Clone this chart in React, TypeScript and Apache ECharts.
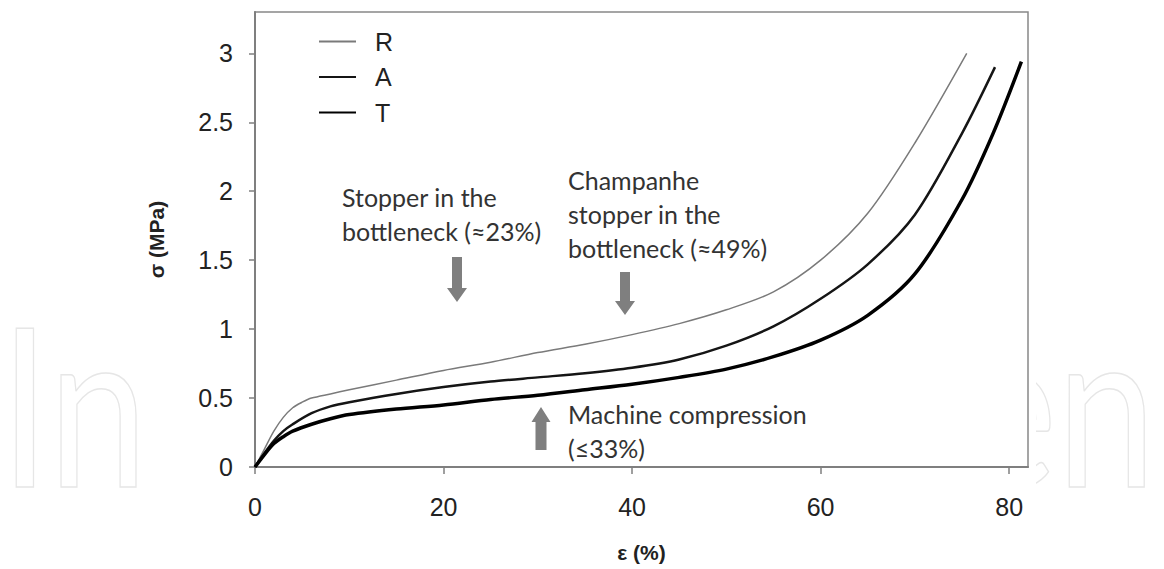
import React, { useEffect, useRef } from "react";
import * as echarts from "echarts";

const seriesNames = ["R", "A", "T"];

const strainR = [0, 1, 2, 3, 4, 5, 6, 8, 10, 15, 20, 25, 30, 35, 40, 45, 50, 55, 60, 65, 70, 75.5];
const stressR = [0, 0.13, 0.26, 0.36, 0.43, 0.47, 0.5, 0.53, 0.56, 0.63, 0.7, 0.76, 0.83, 0.89, 0.96, 1.04, 1.14, 1.27, 1.5, 1.84, 2.35, 3.0];

const strainA = [0, 1, 2, 3, 4, 6, 8, 10, 15, 20, 25, 30, 35, 40, 45, 50, 55, 60, 65, 70, 75, 78.5];
const stressA = [0, 0.1, 0.19, 0.26, 0.31, 0.39, 0.44, 0.47, 0.53, 0.58, 0.62, 0.65, 0.68, 0.72, 0.78, 0.88, 1.02, 1.22, 1.47, 1.83, 2.42, 2.9];

const strainT = [0, 1, 2, 3, 4, 6, 8, 10, 15, 20, 25, 30, 35, 40, 45, 50, 55, 60, 65, 70, 75, 78.3, 81.3];
const stressT = [0, 0.09, 0.17, 0.22, 0.26, 0.31, 0.35, 0.38, 0.42, 0.45, 0.49, 0.52, 0.56, 0.6, 0.65, 0.71, 0.8, 0.92, 1.1, 1.4, 1.94, 2.42, 2.94];

const xTicks = [0, 20, 40, 60, 80];
const yTicks = [0, 0.5, 1, 1.5, 2, 2.5, 3];

const annotations = [
  { lines: ["Stopper in the", "bottleneck (≈23%)"], x: 342, y: 197 },
  { lines: ["Champanhe", "stopper in the", "bottleneck (≈49%)"], x: 568, y: 180 },
  { lines: ["Machine compression", "(≤33%)"], x: 568, y: 414 },
];

function zip(xs: number[], ys: number[]) {
  return xs.map((x, i) => [x, ys[i]]);
}

function arrowDown(cx: number, top: number, headStart: number, tip: number, sw: number, hw: number) {
  return [
    [cx - sw / 2, top],
    [cx + sw / 2, top],
    [cx + sw / 2, headStart],
    [cx + hw / 2, headStart],
    [cx, tip],
    [cx - hw / 2, headStart],
    [cx - sw / 2, headStart],
  ];
}

export default function App() {
  const ref = useRef<HTMLDivElement>(null);
  useEffect(() => {
    document.body.style.margin = "0";
    const chart = echarts.init(ref.current!, null, { renderer: "svg" });
    const labelFont = "Liberation Sans, Arial, sans-serif";
    const annoFont = "Lato, Open Sans, sans-serif";
    const wmStyle = {
      font: "222px Lato, sans-serif",
      fill: "none",
      stroke: "#e6e6e6",
      lineWidth: 1.5,
      textVerticalAlign: "bottom",
      x: 0,
      y: 0,
    };
    const graphics: any[] = [
      { type: "text", z: -10, silent: true, x: 0, y: 512, scaleX: 0.8, style: { ...wmStyle, text: "In" } },
      { type: "text", z: -10, silent: true, x: 963, y: 512, scaleX: 0.8, style: { ...wmStyle, text: "en" } },
      {
        type: "rect",
        z: -5,
        silent: true,
        shape: { x: 145, y: 0, width: 891, height: 569 },
        style: { fill: "#ffffff" },
      },
    ];
    annotations.forEach((a) => {
      a.lines.forEach((t, i) => {
        graphics.push({
          type: "text",
          z: 10,
          style: {
            text: t,
            x: a.x,
            y: a.y + i * 34,
            fill: "#333333",
            font: `25px ${annoFont}`,
            textVerticalAlign: "middle",
            textAlign: "left",
          },
        });
      });
    });
    const arrows = [
      arrowDown(457, 257, 288, 302, 10, 20),
      arrowDown(625, 272, 301, 315, 10, 20),
      arrowDown(541, 450, 422, 407, 11, 19),
    ];
    arrows.forEach((pts) =>
      graphics.push({
        type: "polygon",
        z: 10,
        shape: { points: pts },
        style: { fill: "#7f7f7f" },
      })
    );

    const data = [zip(strainR, stressR), zip(strainA, stressA), zip(strainT, stressT)];
    const colors = ["#7a7a7a", "#151515", "#000000"];
    const widths = [1.5, 2.5, 3.5];

    chart.setOption({
      animation: false,
      backgroundColor: "transparent",
      grid: {
        left: 255,
        top: 12,
        right: 136,
        bottom: 102,
        show: true,
        backgroundColor: "#ffffff",
        borderColor: "#888888",
        borderWidth: 1.5,
        z: 0,
      },
      legend: {
        orient: "vertical",
        left: 313,
        top: 24,
        itemWidth: 37,
        itemHeight: 14,
        itemGap: 10.5,
        data: seriesNames,
        itemStyle: { opacity: 0 },
        textStyle: {
          fontFamily: labelFont,
          fontSize: 25,
          color: "#222222",
          lineHeight: 25,
          padding: [0, 0, 0, 14],
        },
        selectedMode: false,
      },
      xAxis: {
        type: "value",
        min: 0,
        max: 82,
        name: "ε (%)",
        nameLocation: "middle",
        nameGap: 75,
        nameTextStyle: { fontFamily: labelFont, fontWeight: "bold", fontSize: 21, color: "#222222" },
        axisLine: { show: true, lineStyle: { color: "#7f7f7f", width: 2 } },
        axisTick: { show: true, length: 7, customValues: xTicks, lineStyle: { color: "#7f7f7f", width: 1.5 } },
        splitLine: { show: false },
        axisLabel: {
          margin: 27,
          customValues: xTicks,
          fontFamily: labelFont,
          fontSize: 25,
          color: "#222222",
        },
      },
      yAxis: {
        type: "value",
        min: 0,
        max: 3.3,
        name: "σ (MPa)",
        nameLocation: "middle",
        nameGap: 88,
        nameTextStyle: { fontFamily: labelFont, fontWeight: "bold", fontSize: 21, color: "#222222" },
        axisLine: { show: true, lineStyle: { color: "#7f7f7f", width: 2 } },
        axisTick: { show: true, length: 6, customValues: yTicks, lineStyle: { color: "#7f7f7f", width: 1.5 } },
        splitLine: { show: false },
        axisLabel: {
          margin: 22,
          customValues: yTicks,
          fontFamily: labelFont,
          fontSize: 25,
          color: "#222222",
        },
      },
      graphic: graphics,
      series: seriesNames.map((n, i) => ({
        name: n,
        type: "line",
        data: data[i],
        smooth: 0.3,
        symbol: "none",
        lineStyle: { color: colors[i], width: widths[i] },
        itemStyle: { color: colors[i] },
        z: 3,
      })),
    });
    return () => chart.dispose();
  }, []);
  return <div ref={ref} style={{ width: 1164, height: 569 }} />;
}
